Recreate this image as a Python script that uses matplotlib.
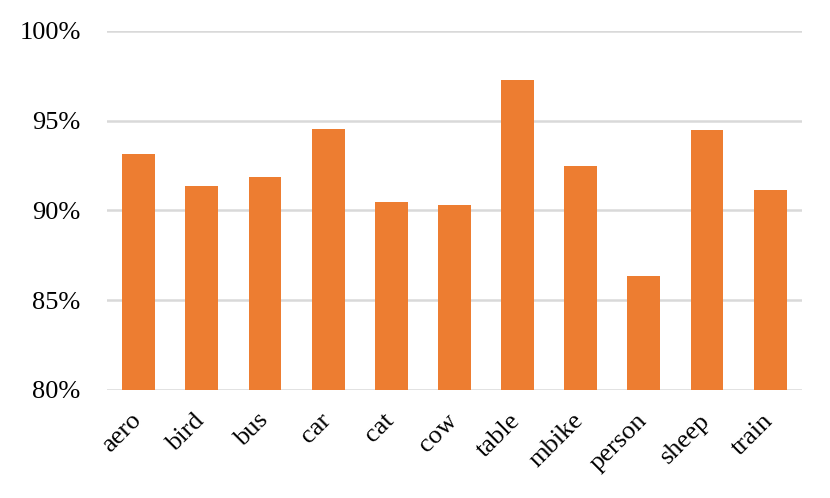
import matplotlib.pyplot as plt
import matplotlib.transforms as mtransforms
from matplotlib.ticker import FuncFormatter

categories = ['aero', 'bird', 'bus', 'car', 'cat', 'cow', 'table', 'mbike', 'person', 'sheep', 'train']
accuracy = [93.15, 91.36, 91.87, 94.54, 90.47, 90.32, 97.27, 92.48, 86.35, 94.46, 91.12]

plt.rcParams['font.family'] = ['Liberation Serif', 'DejaVu Serif']

fig = plt.figure(figsize=(8.3, 4.98), dpi=100)
ax = fig.add_axes([0.129, 0.217, 0.837, 0.721])

x = range(len(categories))
ax.bar(x, [v - 80 for v in accuracy], bottom=80, width=0.52, color='#ED7D31', zorder=3)

ax.set_ylim(80, 100)
ax.set_xlim(-0.5, len(categories) - 0.5)
ax.set_yticks([80, 85, 90, 95, 100])
ax.yaxis.set_major_formatter(FuncFormatter(lambda v, p: '%d%%' % v))
ax.grid(axis='y', color='#D9D9D9', linewidth=1.8, zorder=0)
ax.set_xticks(list(x))
ax.set_xticklabels(categories, rotation=45, ha='right', rotation_mode='anchor')
ax.tick_params(axis='both', length=0, labelsize=19)
ax.tick_params(axis='x', pad=14)
ax.tick_params(axis='y', pad=19)
for s in ax.spines.values():
    s.set_visible(False)

# nudge the rotated labels a little to the left
shift = mtransforms.ScaledTranslation(-6 / 72, 0, fig.dpi_scale_trans)
for lbl in ax.get_xticklabels():
    lbl.set_transform(lbl.get_transform() + shift)

fig.savefig('out.png', dpi=100)
